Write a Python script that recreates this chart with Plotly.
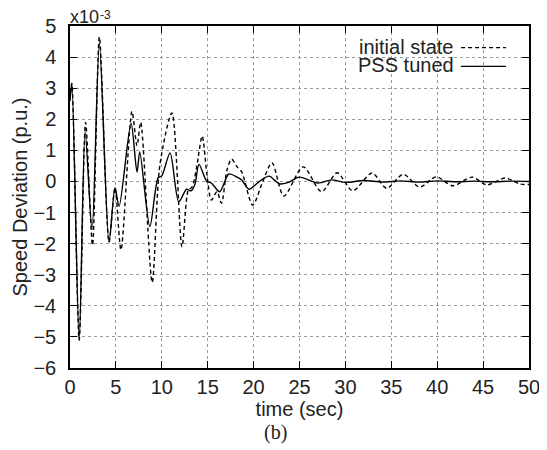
import plotly.graph_objects as go

# -----------------------------
# 1. Data (speed deviation in units of 1e-3 p.u.)
# -----------------------------
t_init = [0, 0.2, 1.0, 1.7, 2.45, 3.2, 4.25, 4.9, 5.55, 6.75, 7.3, 7.7, 8.95,
          9.8, 11.1, 12.2, 12.9, 13.3, 13.8, 14.4, 14.9, 15.4, 16.0, 16.5,
          17.1, 17.6, 18.2, 18.7, 19.9, 21.0, 22.0, 23.3, 25.4, 27.4, 29.1,
          30.8, 32.9, 34.5, 36.3, 38.1, 39.9, 41.7, 43.8, 45.4, 47.4, 49.0, 50]
v_init = [2.6, 3.15, -5.1, 1.9, -2.05, 4.65, -1.95, -0.2, -2.2, 2.25, 1.15, 1.9, -3.25,
          0.55, 2.2, -2.1, -0.27, -0.18, 0.47, 1.46, 0.27, -0.6, -0.33, -0.7,
          0.37, 0.72, 0.47, 0.31, -0.76, 0.0, 0.6, -0.47, 0.47, -0.33, 0.28,
          -0.3, 0.27, -0.22, 0.23, -0.18, 0.15, -0.14, 0.14, -0.11, 0.11, -0.08, -0.1]

t_pss = [0, 0.2, 1.0, 1.65, 2.4, 3.2, 4.25, 4.9, 5.35, 6.65, 7.3, 7.6, 8.7,
         9.6, 10.0, 10.9, 11.85, 12.7, 13.2, 13.6, 14.05, 14.9, 15.4, 16.3,
         17.3, 18.2, 18.7, 19.5, 20.7, 21.7, 22.8, 23.8, 25.0, 27.0, 28.5,
         30, 32, 34, 36, 38, 40, 42, 44, 46, 48, 50]
v_pss = [2.6, 3.15, -5.1, 1.6, -1.55, 4.45, -1.95, -0.2, -0.8, 1.87, 0.3, 0.95, -1.45,
         0.12, 0.18, 0.92, -0.65, -0.25, -0.3, -0.1, 0.55, 0.0, -0.05, -0.33,
         0.24, 0.14, 0.05, -0.25, 0.02, 0.17, -0.08, -0.03, 0.14, -0.05, 0.05,
         -0.03, 0.03, -0.02, 0.02, -0.02, 0.02, -0.01, 0.01, -0.01, 0.01, 0.0]

x_ticks = list(range(0, 51, 5))
y_ticks = list(range(-6, 6))

FONT = "Liberation Sans, Arial, sans-serif"

# -----------------------------
# 2. Figure
# -----------------------------
fig = go.Figure()
fig.add_trace(go.Scatter(x=t_init, y=v_init, mode="lines", name="initial state",
                         line=dict(color="black", width=1.4, dash="4px,3px",
                                   shape="spline", smoothing=0.8)))
fig.add_trace(go.Scatter(x=t_pss, y=v_pss, mode="lines", name="PSS tuned",
                         line=dict(color="black", width=1.4,
                                   shape="spline", smoothing=0.8)))

axis_common = dict(showline=True, linecolor="black", linewidth=1.5, mirror="ticks",
                   ticks="inside", ticklen=7, tickcolor="black", tickwidth=1.2,
                   showgrid=True, gridcolor="#9a9a9a", griddash="dot", gridwidth=1,
                   zeroline=False, automargin=False,
                   tickfont=dict(family=FONT, size=20, color="#222"))

fig.update_xaxes(range=[0, 50], tickvals=x_ticks, ticklabelstandoff=0,
                 title=dict(text="time (sec)", font=dict(family=FONT, size=20, color="#222"),
                            standoff=0),
                 **axis_common)
fig.update_yaxes(range=[-6, 5], tickvals=y_ticks, ticklabelstandoff=8,
                 title=dict(text="Speed Deviation (p.u.)",
                            font=dict(family=FONT, size=20, color="#222"), standoff=0),
                 **axis_common)

# legend drawn gnuplot-style: text right-aligned, line sample on the right
fig.add_annotation(xref="paper", yref="paper", x=0.842, y=0.94, xanchor="right",
                   yanchor="middle", showarrow=False, text="initial state", height=18,
                   font=dict(family=FONT, size=20, color="#222"))
fig.add_annotation(xref="paper", yref="paper", x=0.842, y=0.885, xanchor="right",
                   yanchor="middle", showarrow=False, text="PSS tuned", height=18,
                   font=dict(family=FONT, size=20, color="#222"))
fig.add_shape(type="line", xref="paper", yref="paper", x0=0.852, x1=0.95,
              y0=0.937, y1=0.937, line=dict(color="black", width=1.3, dash="4px,3px"))
fig.add_shape(type="line", xref="paper", yref="paper", x0=0.852, x1=0.95,
              y0=0.882, y1=0.882, line=dict(color="black", width=1.3))

# exponent label (x10 with raised -3) and caption
fig.add_annotation(xref="paper", yref="paper", x=-0.005, y=1.0, xanchor="left",
                   yanchor="bottom", showarrow=False, text="x10", height=17,
                   font=dict(family=FONT, size=18, color="#222"), yshift=-1)
fig.add_annotation(xref="paper", yref="paper", x=0.061, y=1.0, xanchor="left",
                   yanchor="bottom", showarrow=False, text="-3", height=10,
                   font=dict(family=FONT, size=12, color="#222"), yshift=4)
fig.add_annotation(xref="paper", yref="paper", x=0.447, y=-0.19, xanchor="center",
                   yanchor="middle", showarrow=False, text="(b)",
                   font=dict(family="Liberation Serif, Times New Roman, serif",
                             size=20, color="#222"))

# page body adds an 8px offset, so the figure is sized to fit the window
fig.update_layout(width=539, height=442, showlegend=False,
                  margin=dict(l=62, r=18, t=18, b=82),
                  plot_bgcolor="white", paper_bgcolor="white")

fig.write_html("out.html")
